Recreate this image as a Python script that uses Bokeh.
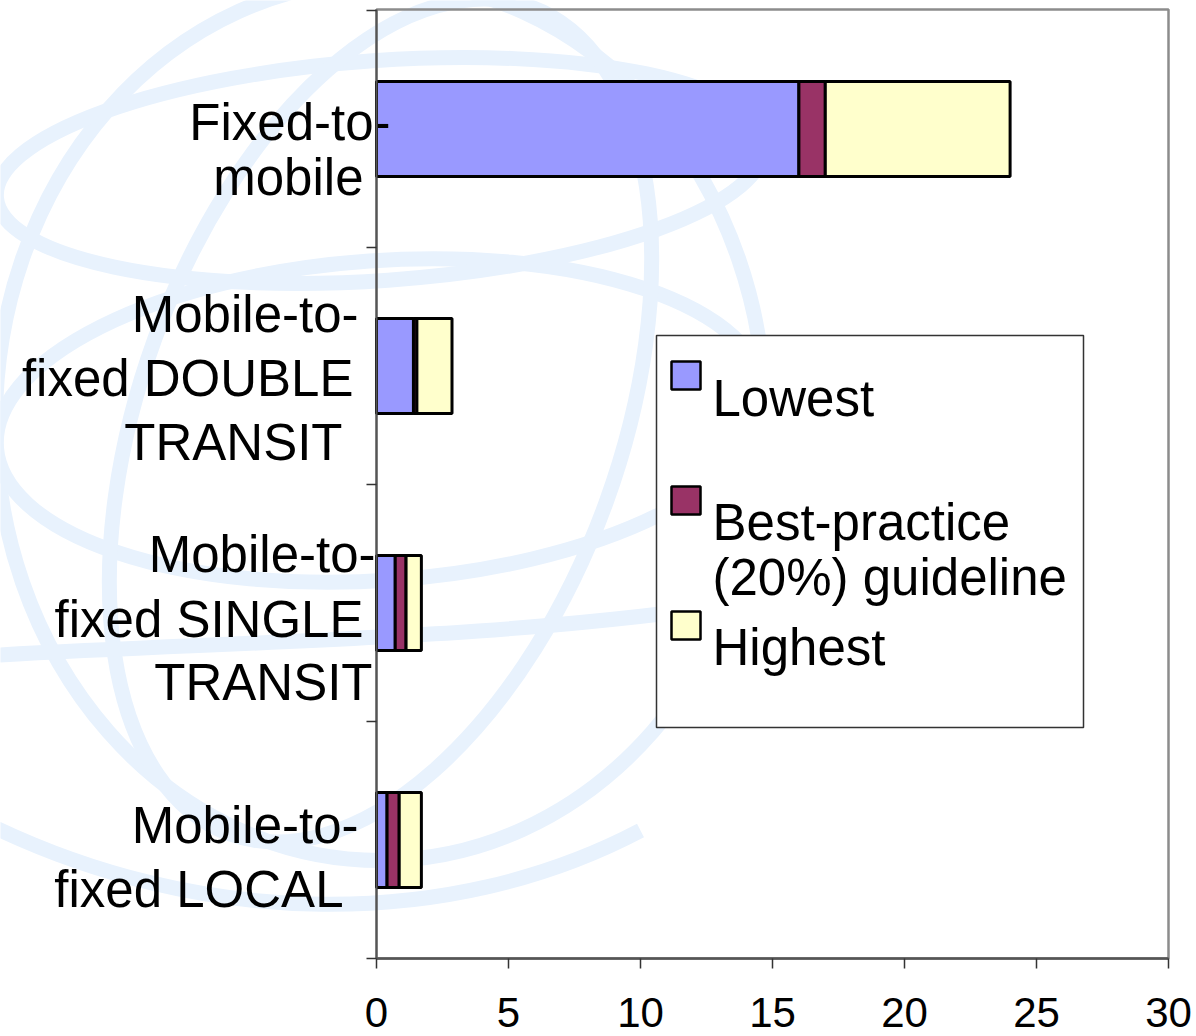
import math
from bokeh.plotting import figure
from bokeh.models import ColumnDataSource, LinearAxis, FixedTicker, Range1d
from bokeh.core.properties import value
from bokeh.embed import file_html
from bokeh.resources import INLINE

# ---------------- data ----------------
categories = ["Fixed-to-\nmobile",
              "Mobile-to-\nfixed DOUBLE\nTRANSIT",
              "Mobile-to-\nfixed SINGLE\nTRANSIT",
              "Mobile-to-\nfixed LOCAL"]
series = ["Lowest", "Best-practice\n(20%) guideline", "Highest"]
lowest = [16.0, 1.40, 0.71, 0.40]
best_practice = [1.0, 0.13, 0.41, 0.46]
highest = [7.0, 1.33, 0.58, 0.84]
x_ticks = [0, 5, 10, 15, 20, 25, 30]
colors = ["#9999ff", "#993366", "#ffffcc"]

# ---------------- geometry (styling) ----------------
W, H = 1196, 1036
X0_PX = 376                       # canvas px of x = 0
PX_PER_X = 792 / 30
PX_PER_Y = 237.0
AXIS_PX = 958                     # canvas px of y = 0
x_start = -X0_PX / PX_PER_X
x_end = x_start + W / PX_PER_X
y_end = AXIS_PX / PX_PER_Y
y_start = -(H - AXIS_PX) / PX_PER_Y


def dx(px):
    return (px - X0_PX) / PX_PER_X


def dy(py):
    return (AXIS_PX - py) / PX_PER_Y


FONT = value("Liberation Sans")

p = figure(width=W, height=H, x_range=Range1d(x_start, x_end),
           y_range=Range1d(y_start, y_end), x_axis_type=None, y_axis_type=None,
           output_backend="svg", toolbar_location=None,
           min_border_left=0, min_border_right=0, min_border_top=0,
           min_border_bottom=0, outline_line_color=None,
           background_fill_color="white", border_fill_color="white")

# ---------------- faint globe watermark ----------------
wm = "#e8f2fd"
ell = [  # canvas cx, cy, w, h, angle
    (380, 420, 770, 880, 0),
    (380, 420, 770, 320, 4),
    (380, 170, 770, 220, 4),
    (380, 420, 480, 880, -20),
]
p.ellipse(x=[dx(e[0]) for e in ell], y=[dy(e[1]) for e in ell],
          width=[e[2] for e in ell], height=[e[3] for e in ell],
          width_units="screen", height_units="screen",
          angle=[math.radians(e[4]) for e in ell],
          fill_color=None, line_color=wm, line_width=15, level="underlay")
bz = [  # x0,y0,x1,y1,cx0,cy0,cx1,cy1 (canvas)
    (-10, 655, 760, 600, 250, 640, 500, 640),
    (-20, 820, 640, 830, 200, 930, 450, 930),
]
p.bezier(x0=[dx(b[0]) for b in bz], y0=[dy(b[1]) for b in bz],
         x1=[dx(b[2]) for b in bz], y1=[dy(b[3]) for b in bz],
         cx0=[dx(b[4]) for b in bz], cy0=[dy(b[5]) for b in bz],
         cx1=[dx(b[6]) for b in bz], cy1=[dy(b[7]) for b in bz],
         line_color=wm, line_width=15, level="underlay")

# ---------------- plot border ----------------
n = len(categories)
p.quad(left=[x_ticks[0]], right=[x_ticks[-1]], bottom=[0], top=[dy(9)],
       fill_color=None, line_color="#8c8c8c", line_width=2.5)

# ---------------- stacked bars ----------------
source = ColumnDataSource(dict(
    y=[n - i - 0.5 for i in range(n)],
    lowest=lowest, best=best_practice, highest=highest))
p.hbar_stack(["lowest", "best", "highest"], y="y", height=0.40,
             color=colors, line_color="black", line_width=3, source=source)

# ---------------- axes ----------------
xaxis = LinearAxis(fixed_location=0, bounds=(x_ticks[0], x_ticks[-1]),
                   ticker=FixedTicker(ticks=x_ticks, minor_ticks=[]),
                   axis_line_color="#555555", axis_line_width=2.5,
                   major_tick_line_color="#333333", major_tick_line_width=1.5,
                   major_tick_in=0, major_tick_out=10,
                   minor_tick_line_color=None,
                   major_label_text_font="Liberation Sans",
                   major_label_text_font_size="42px",
                   major_label_text_color="black",
                   major_label_standoff=29)
p.add_layout(xaxis, "below")

yaxis = LinearAxis(fixed_location=0, bounds=(0, dy(9)),
                   ticker=FixedTicker(ticks=list(range(n + 1)), minor_ticks=[]),
                   axis_line_color="#555555", axis_line_width=2,
                   major_tick_line_color="#333333", major_tick_line_width=1.5,
                   major_tick_in=0, major_tick_out=10,
                   minor_tick_line_color=None,
                   major_label_text_font_size="0px",
                   major_label_text_color=None)
p.add_layout(yaxis, "left")

# ---------------- category labels ----------------
line_right = [[14, -13], [-18, -23, -34], [-1, -13, -4], [-18, -33]]
line_base = [[-7, 48], [-52, 12, 76], [-49, 16, 79], [-15, 49]]
lab = dict(x=[], y=[], t=[], xo=[], yo=[])
for i, cat in enumerate(categories):
    yc = n - i - 0.5
    for j, line in enumerate(cat.split("\n")):
        lab["x"].append(0)
        lab["y"].append(yc)
        lab["t"].append(line)
        lab["xo"].append(line_right[i][j])
        lab["yo"].append(line_base[i][j])
p.text(x="x", y="y", text="t", x_offset="xo", y_offset="yo",
       source=ColumnDataSource(lab), text_align="right",
       text_baseline="alphabetic", text_font=FONT,
       text_font_size=value("51px"), text_color="black")

# ---------------- legend ----------------
p.quad(left=[dx(656)], right=[dx(1083)], top=[dy(335)], bottom=[dy(727)],
       fill_color="white", line_color="#333333", line_width=1.5)
sw_y = [375, 500, 625]
p.rect(x=[dx(685.5)] * len(series), y=[dy(v) for v in sw_y],
       width=29, height=28, width_units="screen", height_units="screen",
       fill_color=colors, line_color="black", line_width=2.5)
leg_base = [[398], [521.7, 576.7], [646.7]]
leg = dict(x=[], y=[], t=[])
for k, name in enumerate(series):
    for j, line in enumerate(name.split("\n")):
        leg["x"].append(dx(712))
        leg["y"].append(dy(leg_base[k][j]))
        leg["t"].append(line)
p.text(x="x", y="y", text="t", source=ColumnDataSource(leg),
       text_align="left", text_baseline="alphabetic", text_font=FONT,
       text_font_size=value("51px"), text_color="black")

open("out.html", "w").write(file_html(p, INLINE))
